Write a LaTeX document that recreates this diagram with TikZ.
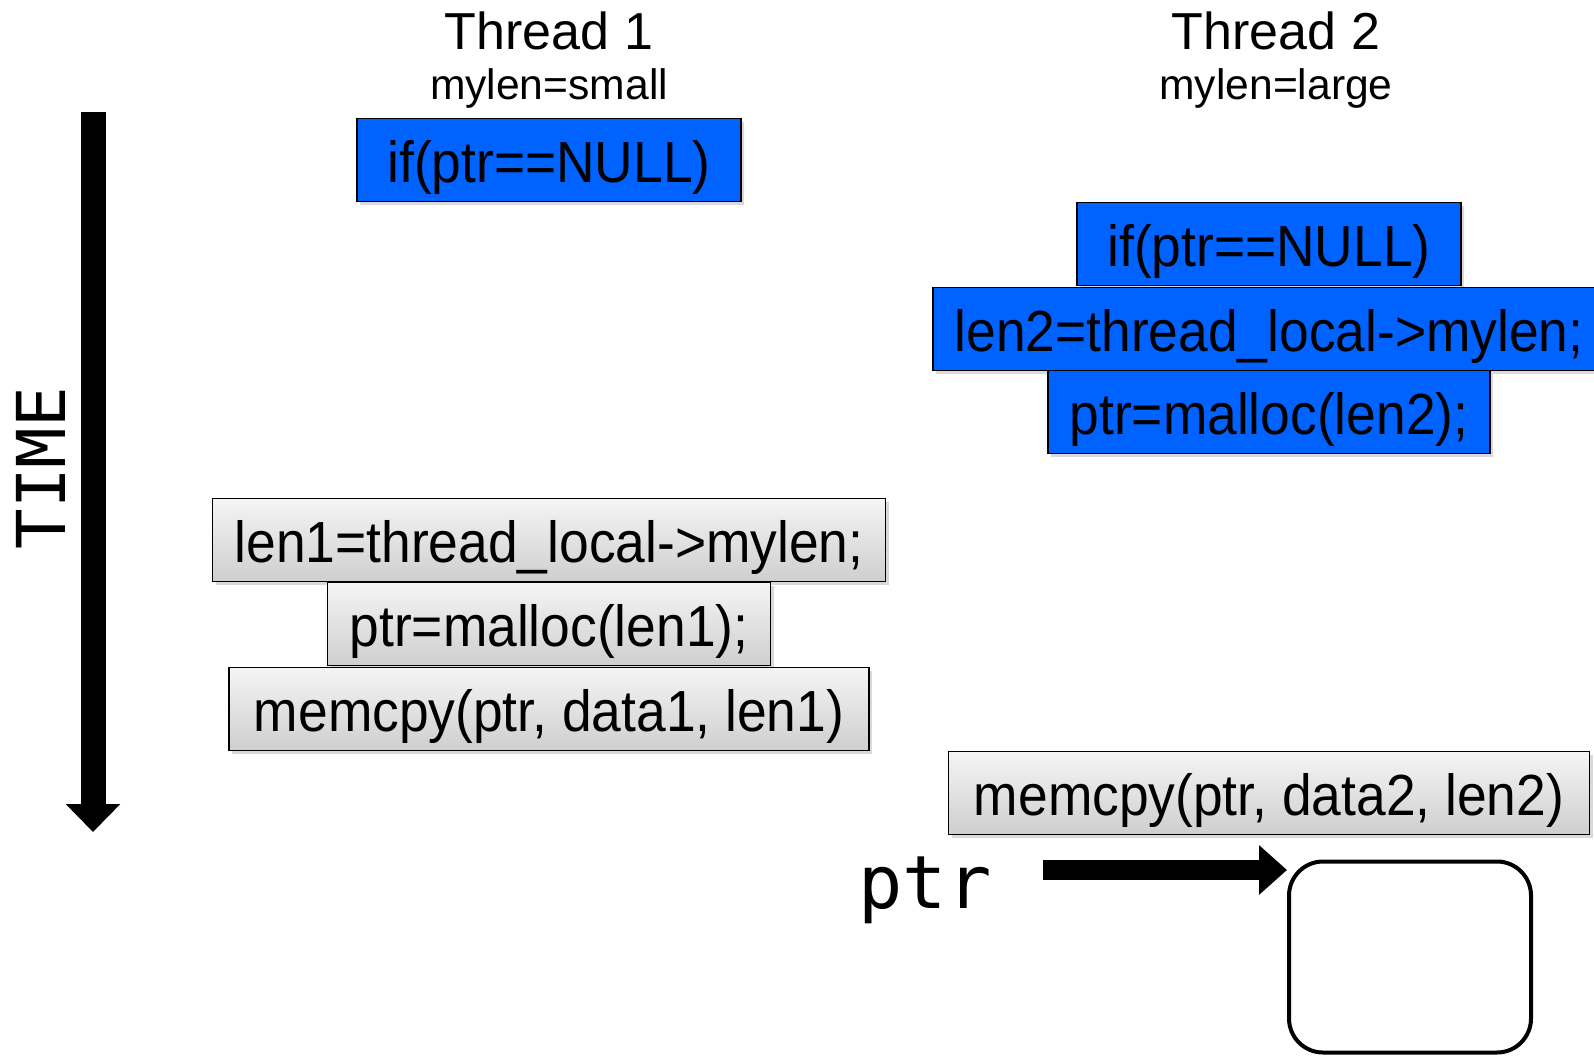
\documentclass[tikz,border=0pt]{standalone}
\usepackage{fontspec}
\setmainfont{Liberation Sans}
\setmonofont{DejaVu Sans Mono}
\newfontfamily\codefont[FakeStretch=0.92]{Liberation Sans}
\usetikzlibrary{arrows.meta,shadows}
\definecolor{threadblue}{RGB}{0,98,255}
\begin{document}
\begin{tikzpicture}[x=0.5pt, y=-0.5pt,
    codebox/.style={draw, line width=0.75pt, inner sep=0pt, minimum height=41.5pt,
        text height=25pt, text depth=3pt,
        font=\codefont\fontsize{29}{34}\selectfont,
        drop shadow={shadow xshift=1.5pt, shadow yshift=-1.5pt, opacity=0.3}},
    bluebox/.style={codebox, fill=threadblue},
    graybox/.style={codebox, top color=gray!8, bottom color=gray!38},
    title/.style={font=\fontsize{26}{30}\selectfont},
    subtitle/.style={font=\fontsize{21.3}{25}\selectfont}]
        \useasboundingbox (0, 0) rectangle (1594, 1055);

        % headings
        \node[title]    at (549, 31)   (t1name) {Thread 1};
        \node[subtitle] at (549, 88)   (t1len)  {mylen=small};
        \node[title]    at (1276, 31)  (t2name) {Thread 2};
        \node[subtitle] at (1276, 88)  (t2len)  {mylen=large};

        % thread 1
        \node[bluebox, minimum width=192pt]   at (549, 160)  (t1if)     {if(ptr==NULL)};
        \node[graybox, minimum width=336.5pt] at (549, 540)  (t1read)   {len1=thread\_local->mylen;};
        \node[graybox, minimum width=221.5pt] at (549, 624)  (t1malloc) {ptr=malloc(len1);};
        \node[graybox, minimum width=320pt]   at (549, 709)  (t1copy)   {memcpy(ptr, data1, len1)};

        % thread 2
        \node[bluebox, minimum width=192pt]   at (1269, 244) (t2if)     {if(ptr==NULL)};
        \node[bluebox, minimum width=336pt]   at (1269, 329) (t2read)   {len2=thread\_local->mylen;};
        \node[bluebox, minimum width=221pt]   at (1269, 412) (t2malloc) {ptr=malloc(len2);};
        \node[graybox, minimum width=320.5pt] at (1269, 793) (t2copy)   {memcpy(ptr, data2, len2)};

        % draw time axis
        \coordinate (timetop) at (93, 112);
        \coordinate (timeend) at (93, 832);
        \draw[line width=12.5pt, -{Triangle[width=26.5pt, length=14pt]}] (timetop) -- (timeend);
        \node[rotate=90, font=\ttfamily\fontsize{33.7}{38}\selectfont] at (41, 468) (time) {TIME};

        % buffer
        \node[draw, line width=2pt, rounded corners=17pt, minimum width=121pt, minimum height=95.5pt]
            at (1410, 957) (mem) {};
        \node[anchor=base, font=\ttfamily\fontsize{36.8}{42}\selectfont] at (925, 908) (ptr) {ptr};
        \coordinate (ptrtail) at (1043, 870);
        \draw[line width=10pt, -{Triangle[width=24pt, length=14pt]}] (ptrtail) -- (ptrtail -| mem.west);

    \end{tikzpicture}
\end{document}
